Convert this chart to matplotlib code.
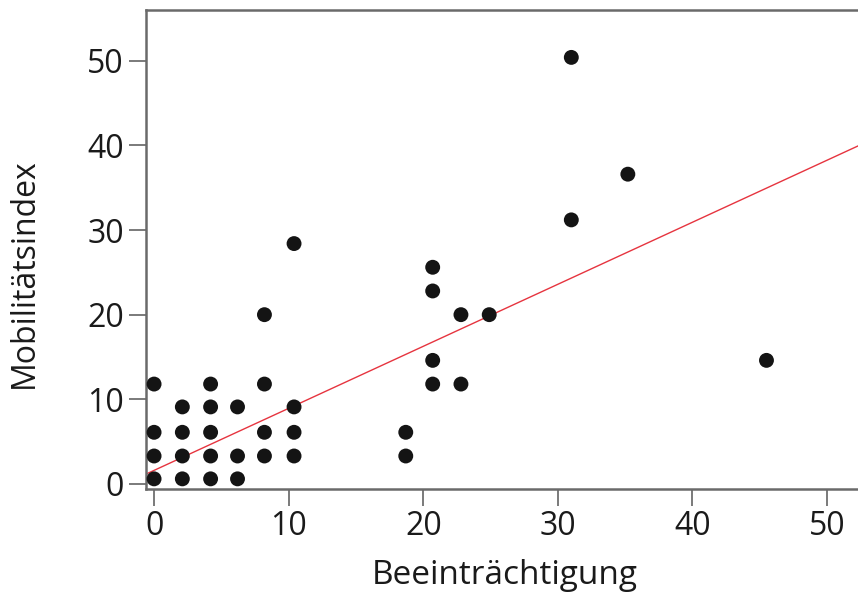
import matplotlib
matplotlib.use("Agg")
import matplotlib.pyplot as plt
import numpy as np

# Beeinträchtigung (x) and Mobilitätsindex (y) per subject
beeintraechtigung = [
    0, 0, 0, 0,
    2.1, 2.1, 2.1, 2.1,
    4.2, 4.2, 4.2, 4.2, 4.2,
    6.2, 6.2, 6.2,
    8.2, 8.2, 8.2, 8.2,
    10.4, 10.4, 10.4, 10.4,
    18.7, 18.7,
    20.7, 20.7, 20.7, 20.7,
    22.8, 22.8,
    24.9,
    31.0, 31.0,
    35.2,
    45.5,
]
mobilitaetsindex = [
    11.8, 6.1, 3.3, 0.6,
    9.1, 6.1, 3.3, 0.6,
    11.8, 9.1, 6.1, 3.3, 0.6,
    9.1, 3.3, 0.6,
    20.0, 11.8, 6.1, 3.3,
    28.4, 9.1, 6.1, 3.3,
    6.1, 3.3,
    25.6, 22.8, 14.6, 11.8,
    20.0, 11.8,
    20.0,
    50.4, 31.2,
    36.6,
    14.6,
]

# Fitted regression line: Mobilitätsindex = a + b * Beeinträchtigung
fit_intercept = 1.6
fit_slope = 0.733

x_ticks = [0, 10, 20, 30, 40, 50]
y_ticks = [0, 10, 20, 30, 40, 50]

plt.rcParams["font.family"] = ["Open Sans", "DejaVu Sans"]

fig = plt.figure(figsize=(8.58, 5.97), dpi=100)
ax = fig.add_axes([146 / 858, 1 - 489 / 597, (858 - 146) / 858, (489 - 10) / 597])

xlim = (-0.6, 52.3)
ylim = (-0.6, 56.0)
ax.set_xlim(*xlim)
ax.set_ylim(*ylim)

xs = np.array(xlim)
ax.plot(xs, fit_intercept + fit_slope * xs, color="#e6343f", lw=1.0, zorder=2)

ax.scatter(beeintraechtigung, mobilitaetsindex, s=115, color="#141414",
           edgecolors="none", zorder=3, clip_on=False)

ax.set_xticks(x_ticks)
ax.set_yticks(y_ticks)
ax.tick_params(axis="both", direction="out", length=12, width=1.3,
               color="#707070", labelsize=23, labelcolor="#1a1a1a")
ax.tick_params(axis="x", pad=3)
ax.tick_params(axis="y", pad=4)

for side in ("left", "bottom", "top"):
    ax.spines[side].set_color("#6a6a6a")
    ax.spines[side].set_linewidth(1.8)
ax.spines["right"].set_visible(False)

ax.set_xlabel("Beeinträchtigung", fontsize=24, color="#1a1a1a")
ax.set_ylabel("Mobilitätsindex", fontsize=23, color="#1a1a1a")
ax.xaxis.set_label_coords(0.504, -0.146)
ax.yaxis.set_label_coords(-0.148, 0.45)

fig.savefig("out.png", dpi=100, facecolor="white")
